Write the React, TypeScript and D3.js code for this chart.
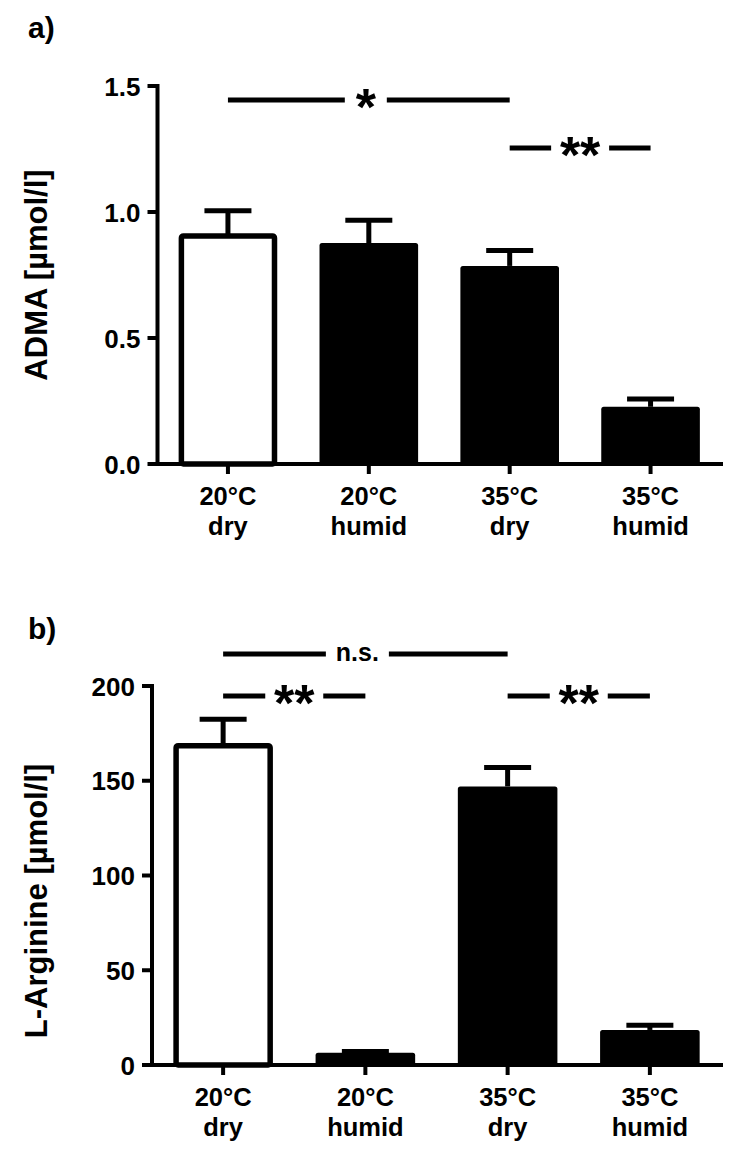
import React from "react";
import * as d3 from "d3";

// ---------- DATA ----------
const categoryTop = ["20°C", "20°C", "35°C", "35°C"];
const categoryBottom = ["dry", "humid", "dry", "humid"];

const admaMeans = [0.905, 0.877, 0.786, 0.227];
const admaSem = [0.1, 0.09, 0.061, 0.031];
const admaTicks = [0, 0.5, 1.0, 1.5];
const admaSig = [
  { from: 0, to: 2, label: "*" },
  { from: 2, to: 3, label: "**" },
];

const argMeans = [168.5, 6.5, 147, 18.5];
const argSem = [14, 0.6, 10, 2.5];
const argTicks = [0, 50, 100, 150, 200];
const argSig = [
  { from: 0, to: 2, label: "n.s." },
  { from: 0, to: 1, label: "**" },
  { from: 2, to: 3, label: "**" },
];

// ---------- STYLE / LAYOUT ----------
const FONT = "'Liberation Sans', Arial, Helvetica, sans-serif";
const barFills = ["white", "black", "black", "black"];

type Sig = { from: number; to: number; label: string };

type PanelProps = {
  panelLabel: string;
  labelBaseline: number;
  title: string;
  titleCenterY: number;
  means: number[];
  sems: number[];
  ticks: number[];
  tickFormat: (v: number) => string;
  yMax: number;
  left: number;
  right: number;
  baseline: number;
  top: number;
  sigs: Sig[];
  sigY: number[];
  sigGap: number[];
  sigShift: number[];
};

function Panel(p: PanelProps) {
  const idx = p.means.map((_, i) => i);
  const x = d3
    .scaleBand<number>()
    .domain(idx)
    .range([p.left, p.right])
    .paddingInner(0.3)
    .paddingOuter(0.15);
  const y = d3.scaleLinear().domain([0, p.yMax]).range([p.baseline, p.top]);
  const bw = x.bandwidth();
  const axisW = 4;
  const barSW = 5.5;
  const errW = 5;
  const capW = 47;
  const tickLen = 10;
  const cx = (i: number) => (x(i) as number) + bw / 2;

  return (
    <g>
      <text
        x={28}
        y={p.labelBaseline}
        fontFamily={FONT}
        fontWeight="bold"
        fontSize={30}
        fill="black"
      >
        {p.panelLabel}
      </text>
      <text
        transform={`translate(47, ${p.titleCenterY}) rotate(-90)`}
        textAnchor="middle"
        fontFamily={FONT}
        fontWeight="bold"
        fontSize={31}
        fill="black"
      >
        {p.title}
      </text>

      {/* bars */}
      {idx.map((i) => {
        const v = p.means[i];
        const x0 = x(i) as number;
        const yt = y(v);
        if (barFills[i] === "white") {
          return (
            <rect
              key={"b" + i}
              x={x0 + barSW / 2}
              y={yt}
              width={bw - barSW}
              height={p.baseline - yt}
              rx={2}
              fill="white"
              stroke="black"
              strokeWidth={barSW}
            />
          );
        }
        return (
          <rect
            key={"b" + i}
            x={x0}
            y={yt}
            width={bw}
            height={p.baseline - yt}
            rx={2.5}
            fill={barFills[i]}
          />
        );
      })}

      {/* error bars */}
      {idx.map((i) => {
        const v = p.means[i];
        const ye = y(v + p.sems[i]);
        return (
          <g key={"e" + i}>
            <line
              x1={cx(i)}
              x2={cx(i)}
              y1={y(v)}
              y2={ye}
              stroke="black"
              strokeWidth={errW}
            />
            <line
              x1={cx(i) - capW / 2}
              x2={cx(i) + capW / 2}
              y1={ye}
              y2={ye}
              stroke="black"
              strokeWidth={errW}
            />
          </g>
        );
      })}

      {/* axes */}
      <path
        d={`M${p.left},${y(p.yMax)}V${p.baseline}H${p.right}`}
        fill="none"
        stroke="black"
        strokeWidth={axisW}
        strokeLinecap="square"
      />
      {p.ticks.map((t) => (
        <g key={"t" + t}>
          <line
            x1={p.left - tickLen}
            x2={p.left}
            y1={y(t)}
            y2={y(t)}
            stroke="black"
            strokeWidth={axisW}
          />
          <text
            x={p.left - 17}
            y={y(t) + 9.5}
            textAnchor="end"
            fontFamily={FONT}
            fontWeight="bold"
            fontSize={26}
            fill="black"
          >
            {p.tickFormat(t)}
          </text>
        </g>
      ))}
      {idx.map((i) => (
        <g key={"x" + i}>
          <line
            x1={cx(i)}
            x2={cx(i)}
            y1={p.baseline}
            y2={p.baseline + tickLen}
            stroke="black"
            strokeWidth={axisW}
          />
          <text
            x={cx(i)}
            y={p.baseline + 41}
            textAnchor="middle"
            fontFamily={FONT}
            fontWeight="bold"
            fontSize={25.5}
            fill="black"
          >
            {categoryTop[i]}
          </text>
          <text
            x={cx(i)}
            y={p.baseline + 71}
            textAnchor="middle"
            fontFamily={FONT}
            fontWeight="bold"
            fontSize={25.5}
            fill="black"
          >
            {categoryBottom[i]}
          </text>
        </g>
      ))}

      {/* significance */}
      {p.sigs.map((s, k) => {
        const x1 = cx(s.from);
        const x2 = cx(s.to);
        const mid = (x1 + x2) / 2 + p.sigShift[k];
        const ly = p.sigY[k];
        const g = p.sigGap[k] / 2;
        const star = s.label.includes("*");
        const fs = star ? 52 : 25;
        const ty = star ? ly + 0.46 * fs + 1 : ly + 7;
        return (
          <g key={"s" + k}>
            <line x1={x1} x2={mid - g} y1={ly} y2={ly} stroke="black" strokeWidth={5} />
            <line x1={mid + g} x2={x2} y1={ly} y2={ly} stroke="black" strokeWidth={5} />
            <text
              x={mid}
              y={ty}
              textAnchor="middle"
              fontFamily={FONT}
              fontWeight="bold"
              fontSize={fs}
              fill="black"
            >
              {s.label}
            </text>
          </g>
        );
      })}
    </g>
  );
}

export default function App() {
  return (
    <svg
      width={750}
      height={1161}
      style={{ position: "absolute", left: 0, top: 0, background: "white" }}
    >
      <rect x={0} y={0} width={750} height={1161} fill="white" />
      <Panel
        panelLabel="a)"
        labelBaseline={38}
        title="ADMA [µmol/l]"
        titleCenterY={275}
        means={admaMeans}
        sems={admaSem}
        ticks={admaTicks}
        tickFormat={(v) => d3.format(".1f")(v)}
        yMax={1.5}
        left={157.5}
        right={721}
        baseline={464}
        top={86}
        sigs={admaSig}
        sigY={[100, 148]}
        sigGap={[42, 58]}
        sigShift={[-3, 0]}
      />
      <Panel
        panelLabel="b)"
        labelBaseline={639}
        title="L-Arginine [µmol/l]"
        titleCenterY={901}
        means={argMeans}
        sems={argSem}
        ticks={argTicks}
        tickFormat={(v) => d3.format("d")(v)}
        yMax={200}
        left={152}
        right={721}
        baseline={1065}
        top={686}
        sigs={argSig}
        sigY={[654, 696, 696]}
        sigGap={[63, 58, 58]}
        sigShift={[-8, 0, 0]}
      />
    </svg>
  );
}
